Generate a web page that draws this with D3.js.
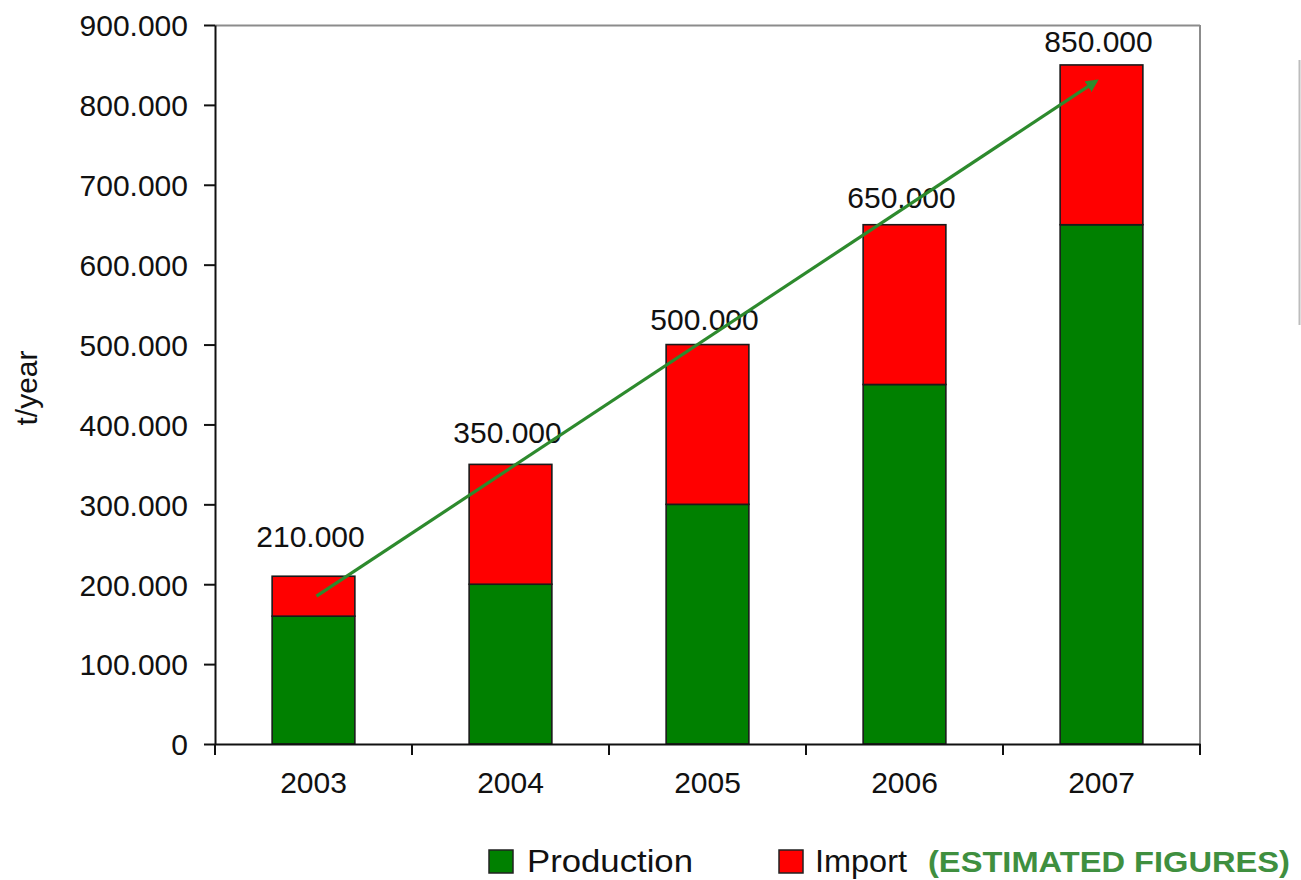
<!DOCTYPE html>
<html>
<head>
<meta charset="utf-8">
<script src="https://cdn.jsdelivr.net/npm/d3@7"></script>
<style>
  html, body { margin: 0; padding: 0; background: #fff; }
  svg { display: block; font-family: "Liberation Sans", Arial, sans-serif; }
</style>
</head>
<body>
<svg id="chart" width="1301" height="880"></svg>
<script>
// ---- data ----
const years = ["2003", "2004", "2005", "2006", "2007"];
const production = [160000, 200000, 300000, 450000, 650000];
const importVals = [50000, 150000, 200000, 200000, 200000];
const totals = [210000, 350000, 500000, 650000, 850000];
const totalLabels = ["210.000", "350.000", "500.000", "650.000", "850.000"];
// value at which each total label's baseline sits (t/year)
const labelBaseVals = [246000, 377000, 518000, 671000, 866000];
const yTicks = [0, 100000, 200000, 300000, 400000, 500000, 600000, 700000, 800000, 900000];
const yTickLabels = ["0", "100.000", "200.000", "300.000", "400.000", "500.000", "600.000", "700.000", "800.000", "900.000"];
const trendStart = ["2003", 185000];
const trendEnd = ["2007", 830000];
const seriesNames = ["Production", "Import"];
const seriesColors = ["#008000", "#ff0000"];
const yTitle = "t/year";
const noteText = "(ESTIMATED FIGURES)";

(function () {
// ---- layout ----
const svg = d3.select("#chart");
const pL = 215, pR = 1200, pT = 25, pB = 744;

const x = d3.scaleBand().domain(years).range([pL, pR]).paddingInner(0).paddingOuter(0);
const xBar = d3.scaleBand().domain(years).range([pL, pR]).paddingInner(0.58).paddingOuter(0.29);
const y = d3.scaleLinear().domain([0, 900000]).range([pB, pT]);

const fs = 30;

// plot frame (gray top/right)
svg.append("line").attr("x1", pL).attr("x2", pR).attr("y1", pT + 0.5).attr("y2", pT + 0.5)
  .attr("stroke", "#8c8c8c").attr("stroke-width", 2);
svg.append("line").attr("x1", pR).attr("x2", pR).attr("y1", pT).attr("y2", pB)
  .attr("stroke", "#8c8c8c").attr("stroke-width", 2);

// stacked bars
const rows = years.map((yr, i) => ({ year: yr, vals: [production[i], importVals[i]] }));
rows.forEach(r => {
  let base = 0;
  r.vals.forEach((v, k) => {
    svg.append("rect")
      .attr("x", xBar(r.year))
      .attr("width", xBar.bandwidth())
      .attr("y", y(base + v))
      .attr("height", y(base) - y(base + v))
      .attr("fill", seriesColors[k])
      .attr("stroke", "#1a1a1a")
      .attr("stroke-width", 1.6);
    base += v;
  });
});

// y axis
const yAxis = d3.axisLeft(y).tickValues(yTicks).tickFormat((d, i) => yTickLabels[i])
  .tickSizeInner(11).tickSizeOuter(0).tickPadding(16);
const gy = svg.append("g").attr("transform", `translate(${pL},0)`).call(yAxis);
gy.select(".domain").attr("stroke", "#111").attr("stroke-width", 2);
gy.selectAll(".tick line").attr("stroke", "#111").attr("stroke-width", 2);
gy.selectAll(".tick text").attr("font-size", fs).attr("fill", "#111")
  .attr("font-family", "Liberation Sans, Arial, sans-serif").attr("dy", "0.36em");

// x axis
const xAxis = d3.axisBottom(x).tickSize(0).tickPadding(28);
const gx = svg.append("g").attr("transform", `translate(0,${pB})`).call(xAxis);
gx.select(".domain").attr("stroke", "#111").attr("stroke-width", 2);
gx.selectAll(".tick text").attr("font-size", fs).attr("fill", "#111")
  .attr("font-family", "Liberation Sans, Arial, sans-serif");
// category separator ticks
const sepPos = [pL].concat(years.map(d => x(d) + x.bandwidth()));
gx.selectAll(".sep").data(sepPos).enter().append("line")
  .attr("x1", d => d).attr("x2", d => d).attr("y1", 0).attr("y2", 11)
  .attr("stroke", "#111").attr("stroke-width", 2);

// total labels
svg.selectAll(".tot").data(years).enter().append("text")
  .attr("x", d => xBar(d) + xBar.bandwidth() / 2 - 3)
  .attr("y", (d, i) => y(labelBaseVals[i]))
  .attr("text-anchor", "middle")
  .attr("font-size", fs).attr("fill", "#111")
  .text((d, i) => totalLabels[i]);

// trend arrow
const defs = svg.append("defs");
defs.append("marker").attr("id", "ah").attr("viewBox", "0 0 10 10")
  .attr("refX", 8).attr("refY", 5).attr("markerWidth", 4).attr("markerHeight", 4)
  .attr("orient", "auto")
  .append("path").attr("d", "M0,0 L10,5 L0,10 Z").attr("fill", "#2d8a2d");
svg.append("line")
  .attr("x1", x(trendStart[0]) + x.bandwidth() / 2 + 3)
  .attr("y1", y(trendStart[1]))
  .attr("x2", x(trendEnd[0]) + x.bandwidth() / 2 - 5)
  .attr("y2", y(trendEnd[1]))
  .attr("stroke", "#2d8a2d").attr("stroke-width", 3.2)
  .attr("marker-end", "url(#ah)");

// y title
svg.append("text")
  .attr("transform", `translate(37,388) rotate(-90)`)
  .attr("text-anchor", "middle")
  .attr("font-size", fs).attr("fill", "#111")
  .text(yTitle);

// legend
const legY = 850;
const legItems = [
  { sx: 489, tx: 527, w: 166 },
  { sx: 779, tx: 815, w: 92 }
];
legItems.forEach((it, k) => {
  svg.append("rect").attr("x", it.sx).attr("y", legY).attr("width", 24).attr("height", 23)
    .attr("fill", seriesColors[k]).attr("stroke", "#222").attr("stroke-width", 1.5);
  svg.append("text").attr("x", it.tx).attr("y", legY + 22)
    .attr("font-size", 31).attr("fill", "#111")
    .attr("textLength", it.w).attr("lengthAdjust", "spacingAndGlyphs")
    .text(seriesNames[k]);
});
svg.append("text").attr("x", 928).attr("y", legY + 22)
  .attr("font-size", 30).attr("font-weight", "bold").attr("fill", "#3f8f3f")
  .attr("textLength", 362).attr("lengthAdjust", "spacingAndGlyphs")
  .text(noteText);

// stray gray edge at right
svg.append("line").attr("x1", 1299.5).attr("x2", 1299.5).attr("y1", 60).attr("y2", 325)
  .attr("stroke", "#bdbdbd").attr("stroke-width", 2);
})();
</script>
</body>
</html>
